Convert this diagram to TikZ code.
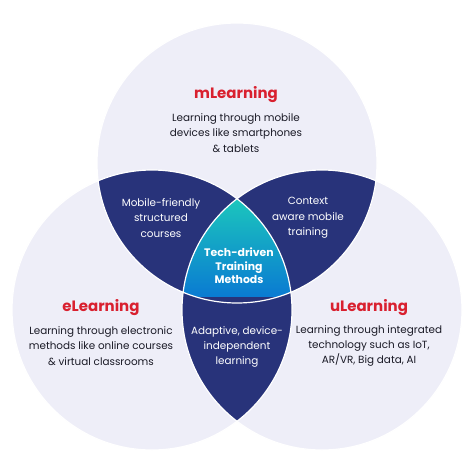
\documentclass[tikz,border=0pt]{standalone}
\usepackage{fontspec}
\setmainfont{Poppins}
\definecolor{lav}{HTML}{EEEEF8}
\definecolor{navy}{HTML}{28337A}
\definecolor{tealtop}{HTML}{1CC8BC}
\definecolor{bluebot}{HTML}{0A7BD2}
\definecolor{titlered}{HTML}{D9202F}
\definecolor{bodytext}{HTML}{1A1A26}
\tikzset{
  body/.style={inner sep=0pt, align=center, text=bodytext, font=\fontsize{10.4}{15.3}\selectfont},
  ttl/.style={inner sep=0pt, text=titlered, font=\fontsize{15}{18}\selectfont\bfseries},
  inner/.style={inner sep=0pt, align=center, text=white, font=\fontsize{10.4}{15.3}\selectfont},
  core/.style={inner sep=0pt, align=center, text=white, font=\fontsize{10.9}{13.5}\selectfont\bfseries},
  rim/.style={draw=white, line width=1.2pt}
}
\begin{document}
\begin{tikzpicture}[x=1pt,y=-1pt]
\useasboundingbox[fill=white] (0,0) rectangle (474,474);
\coordinate (T) at (237,163);
\coordinate (L) at (152,310);
\coordinate (R) at (322,310);
\fill[lav] (T) circle[radius=140pt];
\fill[lav] (L) circle[radius=140pt];
\fill[lav] (R) circle[radius=140pt];
\begin{scope}
  \clip (T) circle[radius=140pt];
  \fill[navy] (L) circle[radius=140pt];
  \fill[navy] (R) circle[radius=140pt];
\end{scope}
\begin{scope}
  \clip (L) circle[radius=140pt];
  \fill[navy] (R) circle[radius=140pt];
\end{scope}
\begin{scope}
  \clip (T) circle[radius=140pt];
  \clip (L) circle[radius=140pt];
  \clip (R) circle[radius=140pt];
  \shade[top color=tealtop, bottom color=bluebot] (170,196) rectangle (305,296);
\end{scope}
\draw[rim] (T) circle[radius=140pt];
\draw[rim] (L) circle[radius=140pt];
\draw[rim] (R) circle[radius=140pt];

\node[ttl] (mt) at (236,95) {mLearning};
\node[body] (mb) at (236,133) {Learning through mobile\\devices like smartphones\\\& tablets};
\node[ttl] (et) at (101,308) {eLearning};
\node[body] (eb) at (101,346) {Learning through electronic\\methods like online courses\\\& virtual classrooms};
\node[ttl] (ut) at (369,308) {uLearning};
\node[body] (ub) at (369,346) {Learning through integrated\\technology such as IoT,\\AR/VR, Big data, AI};
\node[inner] (me) at (161,218) {Mobile-friendly\\structured\\courses};
\node[inner] (mu) at (308,218) {Context\\aware mobile\\training};
\node[inner] (eu) at (237,347) {Adaptive, device-\\independent\\learning};
\node[core] (c) at (239,266) {Tech-driven\\Training\\Methods};
\end{tikzpicture}
\end{document}
